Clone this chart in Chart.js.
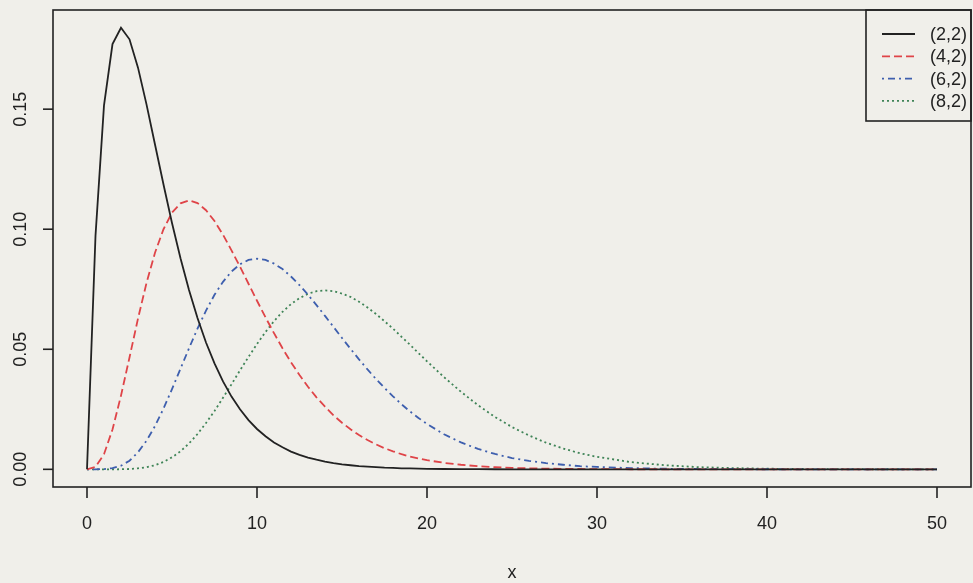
<!DOCTYPE html>
<html>
<head>
<meta charset="utf-8">
<script src="https://cdn.jsdelivr.net/npm/chart.js@4/dist/chart.umd.min.js"></script>
<style>
  html, body { margin: 0; padding: 0; background: #f0efea; }
  #wrap { width: 973px; height: 583px; }
</style>
</head>
<body>
<div id="wrap"><canvas id="myChart" width="973" height="583"></canvas></div>
<script>
// x positions the curves were read at
var xs = [0, 0.5, 1, 1.5, 2, 2.5, 3, 3.5, 4, 4.5, 5, 5.5, 6, 6.5, 7, 7.5, 8, 8.5, 9, 9.5,
          10, 10.5, 11, 11.5, 12, 12.5, 13, 13.5, 14, 14.5, 15, 15.5, 16, 16.5, 17, 17.5, 18, 18.5, 19, 19.5,
          20, 21, 22, 23, 24, 25, 26, 27, 28, 29, 30, 32, 34, 36, 38, 40, 42, 44, 46, 48, 50];

var s22 = [0, 0.0973, 0.1516, 0.1771, 0.1839, 0.1791, 0.1673, 0.1520, 0.1353, 0.1186, 0.1026, 0.0879, 0.0747, 0.0630, 0.0528, 0.0441, 0.0366, 0.0303, 0.0250, 0.0205,
           0.0168, 0.0138, 0.0112, 0.0092, 0.0074, 0.0060, 0.0049, 0.0040, 0.0032, 0.0026, 0.0021, 0.0017, 0.0013, 0.0011, 0.0009, 0.0007, 0.0006, 0.0004, 0.0004, 0.0003,
           0.0002, 0.00014, 0.00009, 0.00006, 0.00004, 0.00002, 0.00001, 0.00001, 0, 0, 0, 0, 0, 0, 0, 0, 0, 0, 0, 0, 0];

var s42 = [0, 0.0010, 0.0063, 0.0166, 0.0307, 0.0466, 0.0628, 0.0776, 0.0902, 0.1000, 0.1069, 0.1108, 0.1120, 0.1109, 0.1079, 0.1034, 0.0977, 0.0912, 0.0844, 0.0773,
           0.0702, 0.0633, 0.0567, 0.0504, 0.0446, 0.0393, 0.0344, 0.0300, 0.0261, 0.0225, 0.0194, 0.0167, 0.0143, 0.0122, 0.0104, 0.0088, 0.0075, 0.0063, 0.0053, 0.0045,
           0.0038, 0.0027, 0.0019, 0.0013, 0.0009, 0.0006, 0.0004, 0.0003, 0.0002, 0.00013, 0.00009, 0.00004, 0.00002, 0.00001, 0, 0, 0, 0, 0, 0, 0];

var s62 = [0, 0, 0.0001, 0.0005, 0.0015, 0.0036, 0.0071, 0.0119, 0.0180, 0.0253, 0.0334, 0.0419, 0.0504, 0.0586, 0.0661, 0.0727, 0.0781, 0.0824, 0.0854, 0.0872,
           0.0877, 0.0872, 0.0857, 0.0834, 0.0803, 0.0767, 0.0727, 0.0684, 0.0639, 0.0593, 0.0547, 0.0502, 0.0458, 0.0416, 0.0376, 0.0339, 0.0304, 0.0271, 0.0241, 0.0214,
           0.0189, 0.0146, 0.0112, 0.0085, 0.0064, 0.0047, 0.0035, 0.0026, 0.0019, 0.0013, 0.0010, 0.0005, 0.00025, 0.00012, 0.00006, 0.00003, 0.00001, 0.00001, 0, 0, 0];

var s82 = [0, 0, 0, 0, 0.00004, 0.00014, 0.0004, 0.0009, 0.0017, 0.0031, 0.0050, 0.0075, 0.0108, 0.0147, 0.0193, 0.0243, 0.0298, 0.0354, 0.0412, 0.0468,
           0.0522, 0.0572, 0.0617, 0.0656, 0.0688, 0.0713, 0.0731, 0.0742, 0.0745, 0.0742, 0.0732, 0.0718, 0.0698, 0.0674, 0.0647, 0.0617, 0.0586, 0.0552, 0.0519, 0.0484,
           0.0450, 0.0384, 0.0323, 0.0267, 0.0218, 0.0176, 0.0141, 0.0111, 0.0087, 0.0067, 0.0052, 0.0030, 0.0017, 0.0009, 0.0005, 0.00026, 0.00014, 0.00007, 0.00004, 0.00002, 0.00001];

var seriesNames = ['(2,2)', '(4,2)', '(6,2)', '(8,2)'];
var xTicks = [0, 10, 20, 30, 40, 50];
var yTicks = [0, 0.05, 0.10, 0.15];
var yTickLabels = ['0.00', '0.05', '0.10', '0.15'];

function pts(ys) {
    return xs.map(function (x, i) { return { x: x, y: ys[i] }; });
}

var FONT = '18px "Liberation Sans", Arial, sans-serif';
var INK = '#222';

// background, box, ticks, labels and the legend, R style
var rFrame = {
    id: 'rFrame',
    beforeDraw: function (chart) {
        var c = chart.ctx;
        c.save();
        c.fillStyle = '#f0efea';
        c.fillRect(0, 0, chart.width, chart.height);
        c.restore();
    },
    afterDraw: function (chart) {
        var c = chart.ctx, a = chart.chartArea;
        var xs_ = chart.scales.x, ys_ = chart.scales.y;
        c.save();
        c.strokeStyle = INK;
        c.lineWidth = 1.6;
        c.strokeRect(a.left, a.top, a.right - a.left, a.bottom - a.top);

        c.fillStyle = INK;
        c.font = FONT;
        c.textAlign = 'center';
        c.textBaseline = 'middle';
        xTicks.forEach(function (v) {
            var px = xs_.getPixelForValue(v);
            c.beginPath();
            c.moveTo(px, a.bottom);
            c.lineTo(px, a.bottom + 11);
            c.stroke();
            c.fillText(String(v), px, a.bottom + 37);
        });
        yTicks.forEach(function (v, i) {
            var py = ys_.getPixelForValue(v);
            c.beginPath();
            c.moveTo(a.left, py);
            c.lineTo(a.left - 10, py);
            c.stroke();
            c.save();
            c.translate(21, py);
            c.rotate(-Math.PI / 2);
            c.fillText(yTickLabels[i], 0, 0);
            c.restore();
        });
        c.fillText('x', (a.left + a.right) / 2, 573);

        // legend
        var lx = 866, ly = a.top, lw = a.right - lx, lh = 111;
        c.strokeRect(lx, ly, lw, lh);
        chart.data.datasets.forEach(function (ds, i) {
            var y = 34 + i * 22.3;
            c.save();
            c.strokeStyle = ds.borderColor;
            c.lineWidth = ds.borderWidth;
            c.setLineDash(ds.borderDash || []);
            c.beginPath();
            c.moveTo(882, y);
            c.lineTo(915, y);
            c.stroke();
            c.restore();
            c.textAlign = 'left';
            c.fillStyle = INK;
            c.fillText(ds.label, 930, y + 1);
        });
        c.restore();
    }
};

var ctx = document.getElementById('myChart').getContext('2d');
var myChart = new Chart(ctx, {
    type: 'line',
    data: {
        datasets: [
            { label: seriesNames[0], data: pts(s22), borderColor: '#222222', borderWidth: 1.8, borderDash: [] },
            { label: seriesNames[1], data: pts(s42), borderColor: '#df4448', borderWidth: 1.8, borderDash: [8, 4] },
            { label: seriesNames[2], data: pts(s62), borderColor: '#3e5fae', borderWidth: 1.8, borderDash: [2, 4, 7, 4] },
            { label: seriesNames[3], data: pts(s82), borderColor: '#3f8457', borderWidth: 1.8, borderDash: [2, 3] }
        ]
    },
    options: {
        responsive: false,
        animation: false,
        layout: { padding: { left: 53, top: 10, right: 2, bottom: 96 } },
        elements: { point: { radius: 0 }, line: { tension: 0 } },
        plugins: { legend: { display: false }, tooltip: { enabled: false } },
        scales: {
            x: { type: 'linear', min: -2, max: 52, display: false },
            y: { type: 'linear', min: -0.00736, max: 0.1913, display: false }
        }
    },
    plugins: [rFrame]
});
</script>
</body>
</html>
